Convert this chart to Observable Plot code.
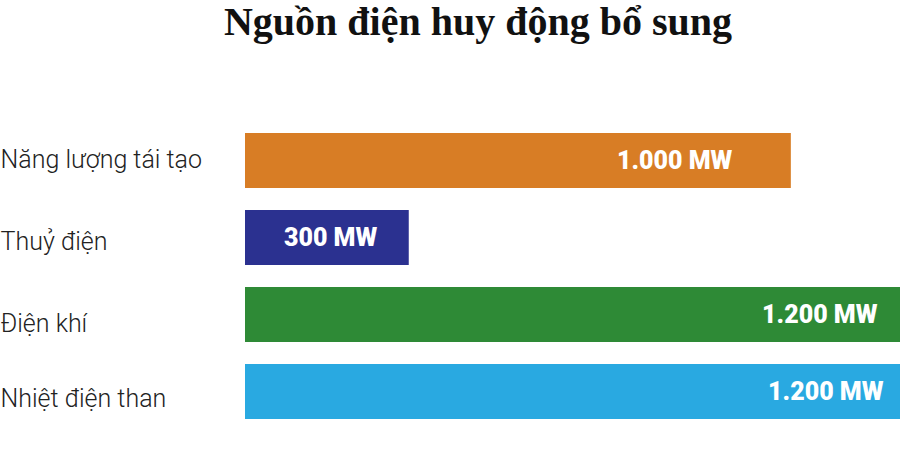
<!DOCTYPE html>
<html>
<head>
<meta charset="utf-8">
<script src="https://cdn.jsdelivr.net/npm/d3@7"></script>
<script src="https://cdn.jsdelivr.net/npm/@observablehq/plot@0.6"></script>
<style>
  html, body { margin: 0; padding: 0; background: #fff; }
  #title { height: 45px; box-sizing: border-box; padding-left: 56px; text-align: center; overflow: visible;
    font-family: "Liberation Serif", serif; font-weight: bold; font-size: 40px; line-height: 44px; padding-top: 0px; color: #111; }
</style>
</head>
<body>
<div id="title">Nguồn điện huy động bổ sung</div>
<div id="chart"></div>
<script>
const categories = ["Năng lượng tái tạo", "Thuỷ điện", "Điện khí", "Nhiệt điện than"];
const values = [1000, 300, 1200, 1200];
const valueLabels = ["1.000 MW", "300 MW", "1.200 MW", "1.200 MW"];
const colors = ["#D87D25", "#2B3190", "#2E8A36", "#29A9E1"];

const data = categories.map((c, i) => ({category: c, value: values[i], label: valueLabels[i], color: colors[i]}));
// per-row label offsets (styling only)
const labelDx = {"Năng lượng tái tạo": -59, "Thuỷ điện": -32, "Điện khí": -23, "Nhiệt điện than": -17};
const catDy = {"Năng lượng tái tạo": -1.5, "Thuỷ điện": 3.5, "Điện khí": 8.5, "Nhiệt điện than": 7};

const plot = Plot.plot({
  width: 900,
  height: 419,
  marginLeft: 245,
  marginRight: 0,
  marginTop: 65,
  marginBottom: 21,
  x: {domain: [0, 1200], axis: null},
  y: {domain: categories, axis: null, padding: 0.28},
  marks: [
    Plot.barX(data, {x: "value", y: "category", fill: "color"}),
    ...data.map(d => Plot.text([d], {y: "category", text: "category", frameAnchor: "left", textAnchor: "start", dx: -245, dy: catDy[d.category],
      fontSize: 25, fontFamily: "Roboto", fontWeight: 300, fill: "#222"})),
    ...data.map(d => Plot.text([d], {x: "value", y: "category", text: "label", textAnchor: "end", dx: labelDx[d.category],
      fontSize: 25, fontFamily: "Roboto", fontWeight: 900, fill: "white"}))
  ]
});
document.getElementById("chart").appendChild(plot);
</script>
</body>
</html>
